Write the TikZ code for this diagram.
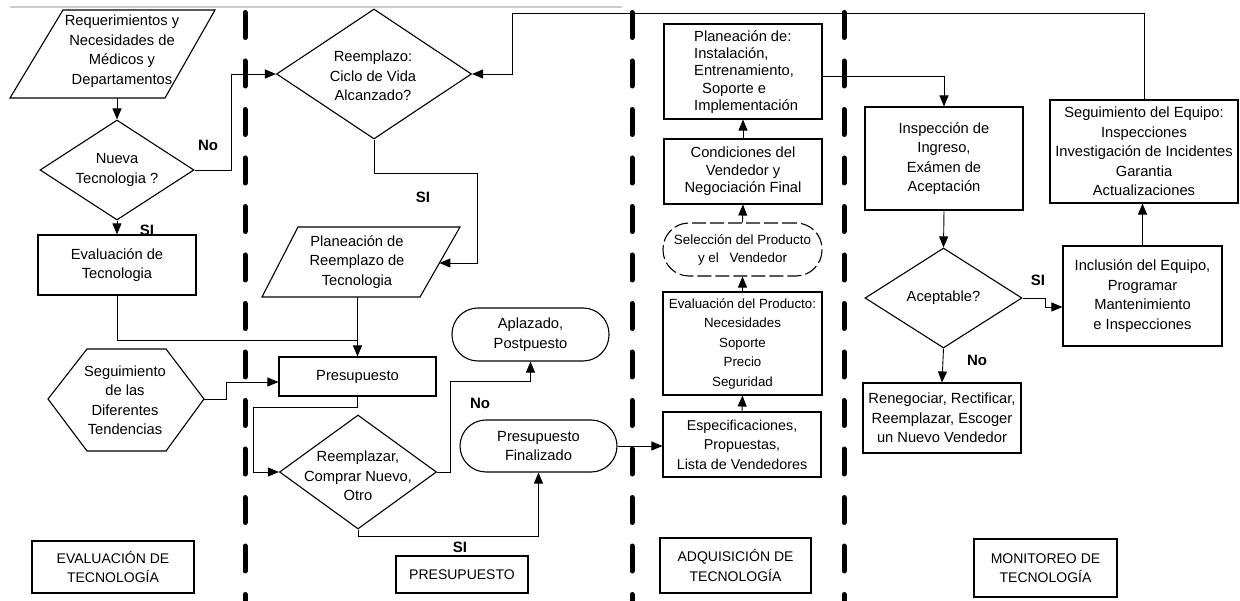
\documentclass[tikz,border=0pt]{standalone}
\usepackage{fontspec}
\setmainfont{Liberation Sans}
\usetikzlibrary{arrows.meta,shapes.geometric,calc}
\begin{document}
\begin{tikzpicture}[x=1pt,y=-1pt,
  fnt/.style={font=\fontsize{14.7}{19.5}\selectfont},
  box/.style={draw, line width=1.1pt, inner sep=0pt, align=center, fnt},
  dia/.style={draw, shape=diamond, line width=1.1pt, inner sep=0pt},
  txt/.style={inner sep=0pt, align=center, fnt},
  shp/.style={draw, line width=1.1pt, line join=miter},
  stad/.style={box, rounded corners=26pt},
  conn/.style={line width=0.9pt, -{Triangle[length=11pt,width=9pt]}},
  wire/.style={line width=0.9pt},
  lbl/.style={font=\fontsize{15}{18}\selectfont\bfseries, inner sep=0pt},
  lane/.style={line width=5pt, line cap=round, dash pattern=on 25pt off 23.5pt},
  lanecap/.style={box, line width=1.2pt, font=\fontsize{14}{19.5}\selectfont}
]
\useasboundingbox (0,0) rectangle (1240,601);

% scan line and lane separators
\draw[gray!40, line width=1.6pt] (10,7) -- (622,7);
\foreach \x in {245,632,844} \draw[lane] (\x,12.5) -- (\x,601);

% ---- Column 1: Evaluacion de tecnologia
\draw[shp] (63,10) -- (215,10) -- (165,98) -- (10,98) -- cycle;
\node[txt] (req) at (122,51) {Requerimientos y\\Necesidades de\\Médicos y\\Departamentos};
\coordinate (reqS) at (117,98);
\node[dia, minimum width=154pt, minimum height=100pt] (nueva) at (117,170) {};
\node[txt] at (nueva) {Nueva\\Tecnologia ?};
\node[box, minimum width=158pt, minimum height=60pt] (evt) at (117,265) {Evaluación de\\Tecnologia};
\draw[shp] (48,399) -- (87,349) -- (166,349) -- (204,399) -- (166,451) -- (87,451) -- cycle;
\node[txt] (hex) at (125,400) {Seguimiento\\de las\\Diferentes\\Tendencias};
\coordinate (hexE) at (204,399);

% ---- Column 2: Presupuesto
\node[dia, minimum width=195pt, minimum height=130pt] (reem) at (374,74) {};
\node[txt] at (373,76) {Reemplazo:\\Ciclo de Vida\\Alcanzado?};
\draw[shp] (298,227) -- (460,227) -- (420,297) -- (262,297) -- cycle;
\node[txt] (plr) at (357,262) {Planeación de\\Reemplazo de\\Tecnologia};
\coordinate (plrE) at (439.4,263);
\coordinate (plrS) at (357.5,297);
\node[box, minimum width=157pt, minimum height=39pt] (pres) at (357.5,376.5) {Presupuesto};
\node[dia, minimum width=157pt, minimum height=114pt] (rcn) at (358,472) {};
\node[txt] at (358,476) {Reemplazar,\\Comprar Nuevo,\\Otro};
\node[stad, minimum width=157pt, minimum height=53pt] (apl) at (530.5,334.5) {Aplazado,\\Postpuesto};
\node[stad, minimum width=157pt, minimum height=52pt] (fin) at (538.5,446) {Presupuesto\\Finalizado};

% ---- Column 3: Adquisicion
\node[box, minimum width=158pt, minimum height=95pt] (pli) at (743,71.5) {};
\node[txt, align=left, anchor=west, font=\fontsize{14.7}{17.3}\selectfont] at (694,72) {Planeación de:\\Instalación,\\Entrenamiento,\\\hspace*{8pt}Soporte e\\Implementación};
\node[box, minimum width=158pt, minimum height=65pt, font=\fontsize{14.7}{17.5}\selectfont] (cond) at (743,171.5) {Condiciones del\\Vendedor y\\Negociación Final};
\node[stad, dash pattern=on 14pt off 4pt, minimum width=159pt, minimum height=53pt, font=\fontsize{13.4}{18}\selectfont] (sel) at (742.5,249.5) {Selección del Producto\\y el\hspace{7pt} Vendedor};
\node[box, minimum width=159pt, minimum height=103pt, font=\fontsize{13.3}{19.5}\selectfont] (evp) at (742.5,343.5) {Evaluación del Producto:\\Necesidades\\Soporte\\Precio\\Seguridad};
\node[box, minimum width=158pt, minimum height=65pt, font=\fontsize{14.3}{19.5}\selectfont] (esp) at (742,444.5) {Especificaciones,\\Propuestas,\\Lista de Vendedores};

% ---- Column 4: Monitoreo
\node[box, minimum width=158pt, minimum height=103pt] (insp) at (944,158.5) {Inspección de\\Ingreso,\\Exámen de\\Aceptación};
\node[dia, minimum width=157pt, minimum height=100pt] (acc) at (943.5,298) {};
\node[txt] at (acc) {Aceptable?};
\node[box, minimum width=158pt, minimum height=70pt] (ren) at (942,418) {Renegociar, Rectificar,\\Reemplazar, Escoger\\un Nuevo Vendedor};
\node[box, minimum width=159pt, minimum height=100pt] (inc) at (1142.5,296) {Inclusión del Equipo,\\Programar\\Mantenimiento\\e Inspecciones};
\node[box, minimum width=188pt, minimum height=103pt] (seg) at (1144,151.5) {Seguimiento del Equipo:\\Inspecciones\\Investigación de Incidentes\\Garantia\\Actualizaciones};

% ---- lane captions
\node[lanecap, minimum width=162pt, minimum height=52pt] (c1) at (113,567) {EVALUACIÓN DE\\TECNOLOGÍA};
\node[lanecap, minimum width=132pt, minimum height=37pt] (c2) at (462,574.5) {PRESUPUESTO};
\node[lanecap, minimum width=151pt, minimum height=55pt] (c3) at (735.5,565.5) {ADQUISICIÓN DE\\TECNOLOGÍA};
\node[lanecap, minimum width=143pt, minimum height=58pt] (c4) at (1045.5,568) {MONITOREO DE\\TECNOLOGÍA};

% ---- connectors
\draw[conn] (reqS) -- (reqS |- nueva.north);
\draw[conn] (nueva.south) -- (evt.north);
\node[lbl] at (147,230) {SI};
\draw[conn] (nueva.east) -- ++(37,0) |- (reem.west);
\node[lbl] at (208,145) {No};
\coordinate (k2) at (477,173);
\draw[conn] (reem.south) |- (k2) |- (plrE);
\node[lbl] at (423,197) {SI};
\coordinate (j1) at (357.5,340);
\draw[wire] (evt.south) |- (j1);
\draw[conn] (plrS) -- (pres.north);
\draw[conn] (hexE) -- ++(22,0) |- ($(pres.west)+(0,5.5)$);
\draw[conn] (pres.south) -- ++(0,11) -| ($(rcn.west)+(-26,0)$) -- (rcn.west);
\draw[conn] (rcn.east) -- ++(13,0) |- ($(apl.south)+(0,20)$) -- (apl.south);
\node[lbl] at (480,403) {No};
\draw[conn] (rcn.south) -- ++(0,7) -| (fin.south);
\node[lbl] at (460,547) {SI};
\draw[conn] (fin.east) -- (fin.east -| esp.west);
\draw[conn] (esp.north) -- (evp.south);
\draw[conn] (evp.north) -- (sel.south);
\draw[conn] (sel.north) -- (cond.south);
\draw[conn] (cond.north) -- (pli.south);
\draw[conn] ($(pli.east)+(0,4.5)$) -| (insp.north);
\draw[conn] (insp.south) -- (acc.north);
\draw[conn] (acc.east) -- ++(23,0) |- ($(inc.west)+(0,11)$);
\node[lbl] at (1038,280) {SI};
\draw[conn] (acc.south) -- (ren.north);
\node[lbl] at (977,360) {No};
\draw[conn] (inc.north) -- (inc.north |- seg.south);
\coordinate (k1) at (512,74);
\draw[conn] (seg.north) -- ++(0,-86) -| (k1) -- (reem.east);
\end{tikzpicture}
\end{document}
